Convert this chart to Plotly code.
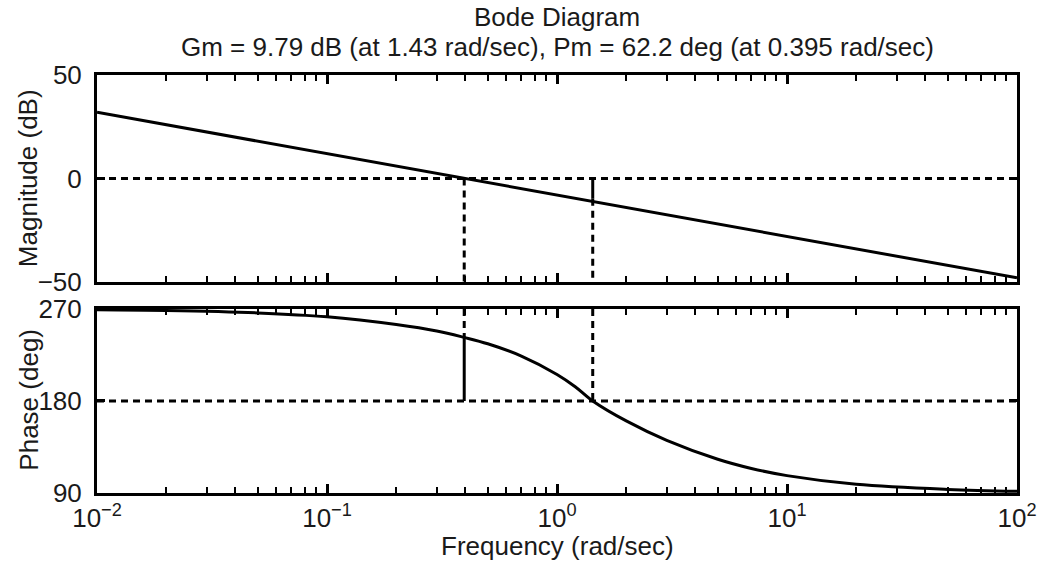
import plotly.graph_objects as go

# ---- data ----
mag_freq = [0.01, 0.02, 0.05, 0.1, 0.2, 0.395, 0.7, 1.0, 1.43, 2, 3, 5, 7, 10, 20, 50, 100]
mag_db = [32.0, 26.0, 18.0, 12.0, 6.0, 0.0, -5.0, -8.0, -11.0, -14.0, -17.6, -22.0, -25.0, -28.0, -34.0, -42.0, -48.0]

ph_freq = [0.01, 0.02, 0.05, 0.1, 0.2, 0.3, 0.395, 0.5, 0.7, 1.0, 1.2, 1.43, 2, 3, 5, 7, 10, 20, 50, 100]
phase_deg = [269.2, 268.5, 266.2, 262.4, 254.8, 248.5, 242.2, 236.0, 224.0, 206.0, 194.0, 180.0, 160.5,
             141.5, 123.0, 114.0, 107.0, 98.5, 93.5, 91.7]

gm_db = 9.79
wg = 1.43
pm_deg = 62.2
wp = 0.395

mag_ticks = [-50, 0, 50]
phase_ticks = [90, 180, 270]
x_tickvals = [0.01, 0.1, 1, 10, 100]
x_ticktext = ["10<sup>\u22122</sup>", "10<sup>\u22121</sup>", "10<sup>0</sup>", "10<sup>1</sup>", "10<sup>2</sup>"]
minor_vals = [m * 10 ** e for e in range(-2, 2) for m in range(2, 10)]

title1 = "Bode Diagram"
title2 = "Gm = 9.79 dB (at 1.43 rad/sec), Pm = 62.2 deg (at 0.395 rad/sec)"

FONT = "Liberation Sans, Arial, sans-serif"
FS = 26
TXT = "#1a1a1a"
BLK = "black"
DASH = "7px,5px"

fig = go.Figure()

# magnitude
fig.add_trace(go.Scatter(x=mag_freq, y=mag_db, mode="lines", line=dict(color=BLK, width=3),
                         xaxis="x", yaxis="y", showlegend=False))
fig.add_trace(go.Scatter(x=[0.01, 100], y=[0, 0], mode="lines", line=dict(color=BLK, width=3, dash=DASH),
                         xaxis="x", yaxis="y", showlegend=False))
fig.add_trace(go.Scatter(x=[wp, wp], y=[0, -50], mode="lines", line=dict(color=BLK, width=3, dash=DASH),
                         xaxis="x", yaxis="y", showlegend=False))
fig.add_trace(go.Scatter(x=[wg, wg], y=[0, -gm_db], mode="lines", line=dict(color=BLK, width=3),
                         xaxis="x", yaxis="y", showlegend=False))
fig.add_trace(go.Scatter(x=[wg, wg], y=[-gm_db, -50], mode="lines", line=dict(color=BLK, width=3, dash=DASH),
                         xaxis="x", yaxis="y", showlegend=False))

# phase
fig.add_trace(go.Scatter(x=ph_freq, y=phase_deg, mode="lines", line=dict(color=BLK, width=3, shape="spline"),
                         xaxis="x2", yaxis="y2", showlegend=False))
fig.add_trace(go.Scatter(x=[0.01, 100], y=[180, 180], mode="lines", line=dict(color=BLK, width=3, dash=DASH),
                         xaxis="x2", yaxis="y2", showlegend=False))
fig.add_trace(go.Scatter(x=[wg, wg], y=[270, 180], mode="lines", line=dict(color=BLK, width=3, dash=DASH),
                         xaxis="x2", yaxis="y2", showlegend=False))
fig.add_trace(go.Scatter(x=[wp, wp], y=[270, 180 + pm_deg], mode="lines", line=dict(color=BLK, width=3, dash=DASH),
                         xaxis="x2", yaxis="y2", showlegend=False))
fig.add_trace(go.Scatter(x=[wp, wp], y=[180 + pm_deg, 180], mode="lines", line=dict(color=BLK, width=3),
                         xaxis="x2", yaxis="y2", showlegend=False))

xcommon = dict(type="log", range=[-2, 2], showline=True, linecolor=BLK, linewidth=3, mirror="allticks",
               ticks="inside", ticklen=9, tickwidth=2.5, tickcolor=BLK, showgrid=False, zeroline=False,
               tickvals=x_tickvals,
               minor=dict(ticks="inside", ticklen=6, tickwidth=2, tickcolor=BLK, tickvals=minor_vals, showgrid=False))
ycommon = dict(showline=True, linecolor=BLK, linewidth=3, mirror="allticks", ticks="inside", ticklen=8,
               tickwidth=2.5, tickcolor=BLK, showgrid=False, zeroline=False,
               tickfont=dict(family=FONT, size=FS, color=TXT), ticklabelstandoff=7)

fig.update_layout(
    width=1049, height=563,
    margin=dict(l=97, r=23, t=75, b=70),
    paper_bgcolor="white", plot_bgcolor="white",
    xaxis=dict(domain=[0, 1], anchor="y", showticklabels=False, **xcommon),
    yaxis=dict(domain=[0.5048, 1], range=[-50, 50], tickvals=mag_ticks,
               ticktext=["\u221250", "0", "50"], anchor="x", **ycommon),
    xaxis2=dict(domain=[0, 1], anchor="y2", ticktext=x_ticktext,
                tickfont=dict(family=FONT, size=FS, color=TXT), ticklabelstandoff=0, **xcommon),
    yaxis2=dict(domain=[0, 0.4402], range=[90, 270], tickvals=phase_ticks, anchor="x2", **ycommon),
    annotations=[
        dict(text=title1, x=0.5, y=1.1388, xref="paper", yref="paper", showarrow=False,
             xanchor="center", yanchor="middle", font=dict(family=FONT, size=FS, color=TXT)),
        dict(text=title2, x=0.5, y=1.067, xref="paper", yref="paper", showarrow=False,
             xanchor="center", yanchor="middle", font=dict(family=FONT, size=FS, color=TXT)),
        dict(text="Magnitude (dB)", x=-0.0743, y=0.7524, xref="paper", yref="paper", showarrow=False,
             textangle=-90, xanchor="center", yanchor="middle", font=dict(family=FONT, size=FS, color=TXT)),
        dict(text="Phase (deg)", x=-0.0743, y=0.2225, xref="paper", yref="paper", showarrow=False,
             textangle=-90, xanchor="center", yanchor="middle", font=dict(family=FONT, size=FS, color=TXT)),
        dict(text="Frequency (rad/sec)", x=0.5, y=-0.1268, xref="paper", yref="paper", showarrow=False,
             xanchor="center", yanchor="middle", font=dict(family=FONT, size=FS, color=TXT)),
    ],
)

# remove the default 8px page margin so the figure sits at the window's top-left corner
fig.write_html("out.html", config={"displayModeBar": False},
               post_script="document.body.style.margin='0';")
